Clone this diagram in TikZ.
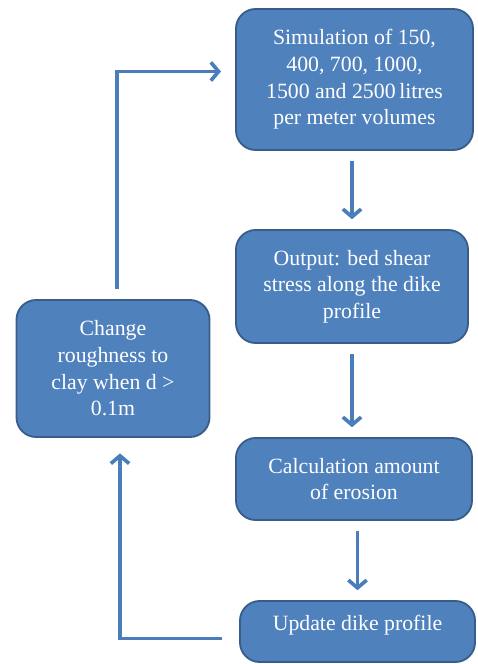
\documentclass[tikz,border=0pt]{standalone}
\usepackage{fontspec}
\setmainfont{Liberation Serif}
\usetikzlibrary{positioning,calc,arrows.meta}
\definecolor{boxfill}{HTML}{4F81BD}
\definecolor{boxline}{HTML}{385D8A}
\definecolor{flow}   {HTML}{4A7EBB}
\tikzset{
  every node/.style={font=\fontsize{15.5}{19}\selectfont},
  % --- nodes
  blk/.style = {rounded corners=14pt, draw=boxline, fill=boxfill, text=white,
                align=center, line width=1.3pt, inner sep=4pt},
  % --- edges
  e/.style   = {-{Straight Barb[length=5.5pt,width=13pt]}, line width=2.6pt, draw=flow},
}

\begin{document}
\begin{tikzpicture}[x=0.025cm,y=-0.025cm,
  big/.style={blk,minimum width=5.925cm,minimum height=3.525cm},
  mid/.style={blk,minimum width=5.8cm,minimum height=2.825cm},
  low/.style={blk,minimum width=5.9cm,minimum height=2.05cm},
]
  \useasboundingbox (0,0) rectangle (478,664);
  \node[big] (sim) at (354.5,79.5) {Simulation of 150,\\400, 700, 1000,\\1500 and 2500\,litres\\per meter volumes};
  \node[mid] (out) at (352,286.5) {Output: bed shear\\stress along the dike\\profile};
  \node[low] (calc) at (354,479) {Calculation amount\\of erosion};
  \node[blk,minimum width=5.875cm,minimum height=1.525cm,text depth=12pt] (upd) at (357.5,631.5) {Update dike profile};
  \node[blk,minimum width=4.825cm,minimum height=3.425cm] (rough) at (113,368.5) {Change\\roughness to\\clay when d >\\0.1m};

  \draw[e,shorten <=7pt,shorten >=7pt] (out.north |- sim.south) -- (out.north);
  \draw[e,shorten <=7pt,shorten >=7pt] (out.south) -- (calc.north -| out.south);
  \draw[e,shorten <=7pt,shorten >=7pt] (calc.south -| upd.north) -- (upd.north);
  \draw[e,shorten <=12pt,shorten >=11pt] ($(upd.west)+(0,7)$) -| ($(rough.south)+(7,0)$);
  \draw[e,shorten <=7pt,shorten >=10pt] ($(rough.north)+(4,0)$) |- ($(sim.west)+(0,-8)$);
\end{tikzpicture}
\end{document}
